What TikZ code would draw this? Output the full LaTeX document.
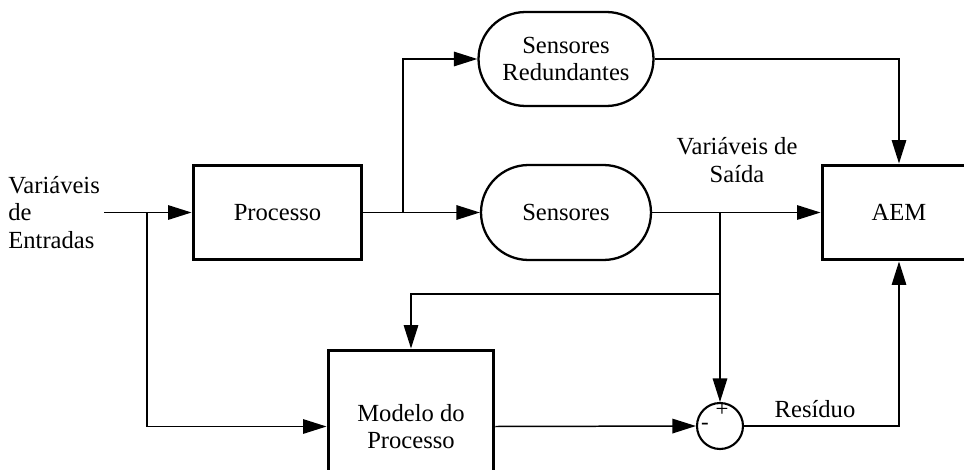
\documentclass[tikz,border=0pt]{standalone}
\usepackage{fontspec}
\setmainfont{Liberation Serif}
\usetikzlibrary{arrows.meta,shapes.misc}

\tikzset{
  txt/.style={font=\fontsize{14}{15.5}\selectfont, inner sep=0pt},
  block/.style={draw, line width=1.7pt, rectangle, txt, align=center},
  sensor/.style={draw, line width=1.3pt, rounded rectangle, txt, align=center},
  sumnode/.style={draw, line width=1.2pt, circle, inner sep=0pt, minimum size=0.92cm},
  conn/.style={line width=0.85pt, -{Triangle[length=0.47cm,width=0.29cm]}},
  wire/.style={line width=0.85pt}
}

\begin{document}
\begin{tikzpicture}[x=0.02cm, y=-0.02cm]
\useasboundingbox (0,0) rectangle (964,470);
\clip (0,0) rectangle (964,470);

% blocks
\node[block, minimum width=3.38cm, minimum height=1.9cm] (proc) at (277.5,212.5) {Processo};
\node[block, minimum width=3.08cm, minimum height=1.9cm] (aem) at (899,212.5) {AEM};
\node[block, minimum width=3.32cm, minimum height=3.06cm] (model) at (411,426.5) {Modelo do\\Processo};
\node[sensor, minimum width=3.4cm, minimum height=1.9cm] (sens) at (566,212.5) {Sensores};
\node[sensor, minimum width=3.5cm, minimum height=1.88cm] (sred) at (566,59) {Sensores\\Redundantes};
\node[sumnode] (sum) at (720,426) {};
\node[txt, font=\fontsize{13}{14}\selectfont] (plus) at (722,410) {+};
\node[txt, font=\fontsize{13}{14}\selectfont] (minus) at (705,426) {-};

% labels
\node[txt, anchor=west, align=left] (inlbl) at (8,212.5) {Variáveis\\de\\Entradas};
\node[txt, align=center] (outlbl) at (737,160) {Variáveis de\\Saída};
\node[txt] (reslbl) at (815,409) {Resíduo};

% junction points
\coordinate (in) at (104,212.5);
\coordinate (b0) at (147,212.5);
\coordinate (b1) at (403,212.5);
\coordinate (b2) at (720,212.5);
\coordinate (b3) at (720,294);

% connectors
\draw[conn] (in) -- (proc.west);
\draw[conn] (b0) |- (model.west);
\draw[conn] (proc.east) -- (sens.west);
\draw[conn] (b1) |- (sred.west);
\draw[conn] (sred.east) -| (aem.north);
\draw[conn] (sens.east) -- (aem.west);
\draw[wire] (b2) -- (b3);
\draw[conn] (b3) -| (model.north);
\draw[conn] (b3) -- (sum.north);
\draw[conn] (model.east) -- (sum.west);
\draw[conn] (sum.east) -| (aem.south);
\end{tikzpicture}
\end{document}
